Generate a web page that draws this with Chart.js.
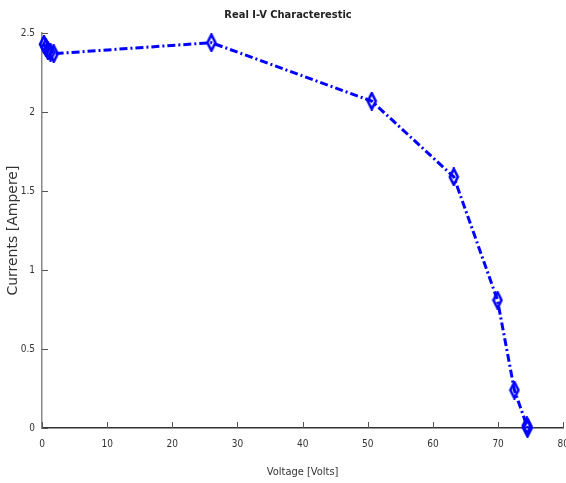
<!DOCTYPE html>
<html>
<head>
<meta charset="utf-8">
<script src="https://cdn.jsdelivr.net/npm/chart.js@4.4.1/dist/chart.umd.min.js"></script>
<style>
  html, body { margin: 0; padding: 0; background: #fff; overflow: hidden; }
  #wrap { width: 579px; height: 483px; }
</style>
</head>
<body>
<div id="wrap"><canvas id="c"></canvas></div>
<script>
const voltage = [0.3, 0.6, 0.9, 1.3, 1.8, 26.0, 50.6, 63.2, 69.9, 72.5, 74.4, 74.5, 74.5];
const current = [2.43, 2.41, 2.39, 2.38, 2.37, 2.44, 2.07, 1.59, 0.81, 0.24, 0.015, 0.005, 0.0];
const xTicks = [0, 10, 20, 30, 40, 50, 60, 70, 80];
const yTicks = [0, 0.5, 1, 1.5, 2, 2.5];

const narrow = '"Liberation Sans Narrow", "DejaVu Sans Condensed", "Liberation Sans", sans-serif';

// thin hollow diamond marker
function diamond() {
  const cv = document.createElement('canvas');
  cv.width = 12; cv.height = 19;
  const g = cv.getContext('2d');
  g.strokeStyle = '#0000ff';
  g.lineWidth = 2.6;
  g.beginPath();
  g.moveTo(6, 1.5); g.lineTo(10, 9.5); g.lineTo(6, 17.5); g.lineTo(2, 9.5);
  g.closePath();
  g.stroke();
  return cv;
}

// inward tick marks, MATLAB style
const inTicks = {
  id: 'inTicks',
  afterDraw(chart) {
    const { ctx, chartArea: a, scales: { x, y } } = chart;
    ctx.save();
    ctx.strokeStyle = '#555';
    ctx.lineWidth = 1;
    ctx.beginPath();
    xTicks.forEach(v => {
      const px = Math.round(x.getPixelForValue(v)) + 0.5;
      ctx.moveTo(px, a.bottom); ctx.lineTo(px, a.bottom - 6);
    });
    yTicks.forEach(v => {
      const py = Math.round(y.getPixelForValue(v)) + 0.5;
      ctx.moveTo(a.left, py); ctx.lineTo(a.left + 6, py);
    });
    ctx.stroke();
    ctx.restore();
  }
};

new Chart(document.getElementById('c'), {
  type: 'scatter',
  data: {
    datasets: [{
      data: voltage.map((v, i) => ({ x: v, y: current[i] })),
      showLine: true,
      borderColor: '#0000ff',
      borderWidth: 3,
      borderDash: [8, 3, 2, 3],
      pointStyle: diamond(),
      pointRadius: 8,
      pointHoverRadius: 8,
      clip: false,
    }],
  },
  options: {
    responsive: true,
    maintainAspectRatio: false,
    animation: false,
    layout: { padding: { left: 0, right: 3, top: 0, bottom: 0 } },
    plugins: {
      legend: { display: false },
      tooltip: { enabled: false },
      title: {
        display: true,
        text: 'Real I-V Characterestic',
        color: '#222',
        font: { family: narrow, size: 11, weight: 'bold' },
        padding: { top: 9, bottom: 11 },
      },
    },
    scales: {
      x: {
        type: 'linear',
        min: 0, max: 80,
        afterBuildTicks: s => { s.ticks = xTicks.map(v => ({ value: v })); },
        afterFit: s => { s.height = 55; },
        grid: { display: true, drawOnChartArea: false, drawTicks: false, color: '#555' },
        border: { color: '#333', width: 1.5 },
        ticks: { color: '#333', font: { family: narrow, size: 10 }, padding: 10, maxRotation: 0,
                 callback: v => String(v) },
        title: {
          display: true, text: 'Voltage [Volts]', color: '#333',
          font: { family: narrow, size: 11 }, padding: { top: 15 },
        },
      },
      y: {
        type: 'linear',
        min: 0, max: 2.5,
        afterBuildTicks: s => { s.ticks = yTicks.map(v => ({ value: v })); },
        afterFit: s => { s.width = 42; },
        grid: { display: true, drawOnChartArea: false, drawTicks: false, color: '#888' },
        border: { color: '#888', width: 1.5 },
        ticks: { color: '#333', font: { family: narrow, size: 10 }, padding: 7,
                 callback: v => String(v) },
        title: {
          display: true, text: 'Currents [Ampere]', color: '#333',
          font: { family: '"DejaVu Sans", sans-serif', size: 14 }, padding: { top: 5, bottom: 0 },
        },
      },
    },
  },
  plugins: [inTicks],
});
</script>
</body>
</html>
